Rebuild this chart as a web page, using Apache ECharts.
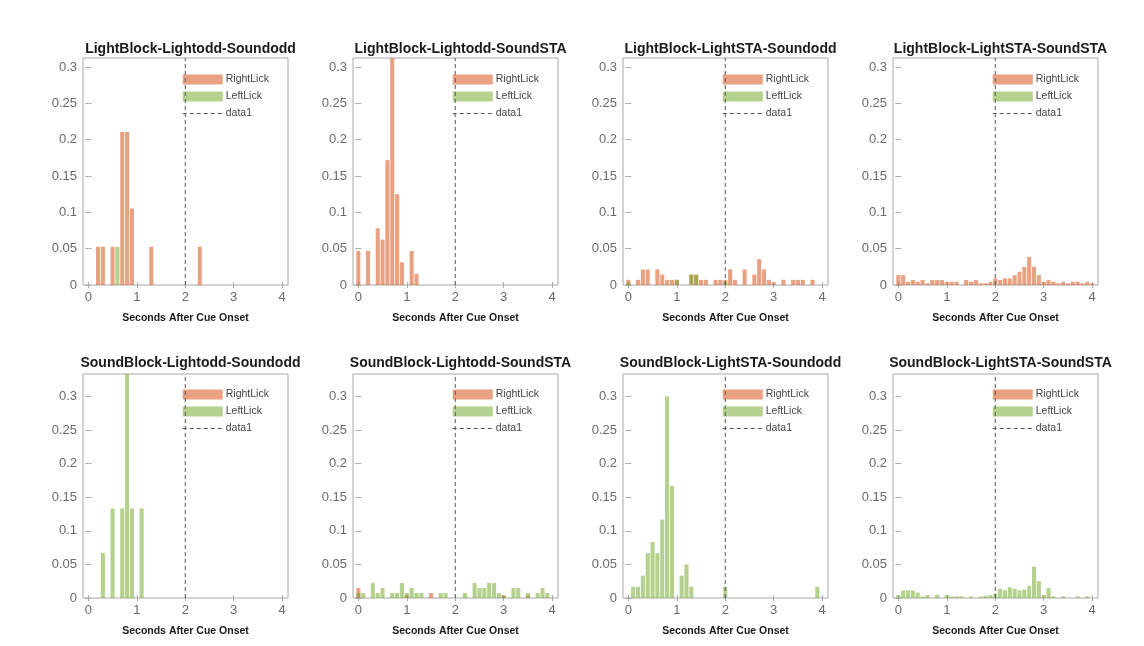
<!DOCTYPE html>
<html>
<head>
<meta charset="utf-8">
<script src="https://cdn.jsdelivr.net/npm/echarts@6/dist/echarts.min.js"></script>
<style>
  html, body { margin: 0; padding: 0; background: #fff; }
  #chart { width: 1144px; height: 646px; }
</style>
</head>
<body>
<div id="chart"></div>
<script>
// Lick-latency histograms, 0.1 s bins after cue onset
const binCenters = [0.0,0.1,0.2,0.3,0.4,0.5,0.6,0.7,0.8,0.9,
                    1.0,1.1,1.2,1.3,1.4,1.5,1.6,1.7,1.8,1.9,
                    2.0,2.1,2.2,2.3,2.4,2.5,2.6,2.7,2.8,2.9,
                    3.0,3.1,3.2,3.3,3.4,3.5,3.6,3.7,3.8,3.9,
                    4.0];

const panelTitles = [
  'LightBlock-Lightodd-Soundodd', 'LightBlock-Lightodd-SoundSTA',
  'LightBlock-LightSTA-Soundodd', 'LightBlock-LightSTA-SoundSTA',
  'SoundBlock-Lightodd-Soundodd', 'SoundBlock-Lightodd-SoundSTA',
  'SoundBlock-LightSTA-Soundodd', 'SoundBlock-LightSTA-SoundSTA'
];

const xTicks = [0, 1, 2, 3, 4];
const yTicks = [0, 0.05, 0.1, 0.15, 0.2, 0.25, 0.3];
const rowYMax = [0.3125, 0.3333];
const cueTime = 2;
const xLabel = 'Seconds After Cue Onset';

// Panel 1: LightBlock-Lightodd-Soundodd
const p1Right = [0,0,.0526,.0526,0,.0526,0,.2105,.2105,.1053, 0,0,0,.0526,0,0,0,0,0,0, 0,0,0,.0526,0,0,0,0,0,0, 0,0,0,0,0,0,0,0,0,0, 0];
const p1Left  = [0,0,0,0,0,0,.0526,0,0,0, 0,0,0,0,0,0,0,0,0,0, 0,0,0,0,0,0,0,0,0,0, 0,0,0,0,0,0,0,0,0,0, 0];
// Panel 2: LightBlock-Lightodd-SoundSTA
const p2Right = [.0469,0,.0469,0,.0781,.0625,.1719,.3125,.125,.0313, 0,.0469,.0156,0,0,0,0,0,0,0, 0,0,0,0,0,0,0,0,0,0, 0,0,0,0,0,0,0,0,0,0, 0];
const p2Left  = [0,0,0,0,0,0,0,0,0,0, 0,0,0,0,0,0,0,0,0,0, 0,0,0,0,0,0,0,0,0,0, 0,0,0,0,0,0,0,0,0,0, 0];
// Panel 3: LightBlock-LightSTA-Soundodd
const p3Right = [.0071,0,.0071,.0214,.0214,0,.0214,.0143,.0071,.0071, .0071,0,0,.0143,.0143,.0071,.0071,0,.0071,.0071, .0071,.0214,.0071,0,.0214,0,.0143,.0357,.0214,.0071, .0036,0,.0071,0,.0071,.0071,.0071,0,.0071,0, 0];
const p3Left  = [.0036,0,0,0,0,0,0,0,0,0, .0071,0,0,.0143,.0143,0,0,0,0,0, .0036,0,0,0,0,0,0,0,0,0, 0,0,0,0,0,0,0,0,0,0, 0];
// Panel 4: LightBlock-LightSTA-SoundSTA
const p4Right = [.0136,.0136,.0045,.0068,.0045,.0068,.0023,.0068,.0068,.0068, .0045,.0045,.0045,0,.0068,.0045,.0068,.0023,.0023,.0045, .0091,.0068,.0091,.0091,.0136,.0182,.0250,.0386,.0250,.0136, .0045,.0068,.0045,.0023,.0045,.0023,.0045,.0045,.0023,.0045, .0023];
const p4Left  = [0,0,0,0,0,0,0,0,0,0, 0,0,0,0,0,0,0,0,0,0, 0,0,0,0,0,0,0,0,0,0, 0,0,0,0,0,0,0,0,0,0, 0];
// Panel 5: SoundBlock-Lightodd-Soundodd
const p5Right = [0,0,0,0,0,0,0,0,0,0, 0,0,0,0,0,0,0,0,0,0, 0,0,0,0,0,0,0,0,0,0, 0,0,0,0,0,0,0,0,0,0, 0];
const p5Left  = [0,0,0,.0667,0,.1333,0,.1333,.3333,.1333, 0,.1333,0,0,0,0,0,0,0,0, 0,0,0,0,0,0,0,0,0,0, 0,0,0,0,0,0,0,0,0,0, 0];
// Panel 6: SoundBlock-Lightodd-SoundSTA
const p6Right = [.0148,0,0,0,0,0,0,0,0,0, .0037,0,0,0,0,.0074,0,0,0,0, 0,0,0,0,0,0,0,0,0,0, .0037,0,0,0,0,.0037,0,0,0,0, 0];
const p6Left  = [.0074,.0074,0,.0222,.0074,.0148,0,.0074,.0074,.0222, .0074,.0148,.0074,.0074,0,0,0,.0074,.0074,0, 0,0,.0074,0,.0222,.0148,.0148,.0222,.0222,.0074, .0037,0,.0148,.0148,0,.0074,0,.0074,.0148,.0074, 0];
// Panel 7: SoundBlock-LightSTA-Soundodd
const p7Right = [0,0,0,0,0,0,0,0,0,0, 0,0,0,0,0,0,0,0,0,0, 0,0,0,0,0,0,0,0,0,0, 0,0,0,0,0,0,0,0,0,0, 0];
const p7Left  = [0,.0167,.0167,.0333,.0667,.0833,.0667,.1167,.3,.1667, 0,.0333,.05,.0167,0,0,0,0,0,0, .0167,0,0,0,0,0,0,0,0,0, 0,0,0,0,0,0,0,0,0,.0167, 0];
// Panel 8: SoundBlock-LightSTA-SoundSTA
const p8Right = [0,0,0,0,0,0,0,0,0,0, 0,0,0,0,0,0,0,0,0,0, 0,0,0,0,0,0,0,0,0,0, 0,0,0,0,0,0,0,0,0,0, 0];
const p8Left  = [.0045,.0114,.0114,.0114,.0080,.0023,.0045,0,.0045,0, .0045,.0023,.0023,.0023,0,.0023,0,.0023,.0034,.0045, .0068,.0136,.0114,.0159,.0136,.0114,.0125,.0182,.0466,.0250, .0045,.0148,.0023,0,.0023,0,0,.0023,0,.0023, 0];

const rightLick = [p1Right, p2Right, p3Right, p4Right, p5Right, p6Right, p7Right, p8Right];
const leftLick  = [p1Left,  p2Left,  p3Left,  p4Left,  p5Left,  p6Left,  p7Left,  p8Left];

// ---- layout & style ----
const FONT = "'Liberation Sans', Arial, Helvetica, sans-serif";
const colLeft = [83, 353, 623, 893];
const gridW = 205;
const rowTop = [58, 374];
const rowH = [227, 224];
const xMin = -0.11, xMax = 4.12;
const axisGray = '#a8a8a8';
const labelGray = '#6a6a6a';
const orange = '#D95319';
const green = '#77AC30';
const cueColor = '#555555';

const binPx = gridW / (xMax - xMin) * 0.1;
const barPx = binPx * 0.84;

const grids = [], xAxes = [], yAxes = [], series = [], titles = [], legends = [];

panelTitles.forEach((name, i) => {
  const row = Math.floor(i / 4), col = i % 4;
  const left = colLeft[col], top = rowTop[row], h = rowH[row];
  const yMax = rowYMax[row];

  grids.push({ left: left, top: top, width: gridW, height: h,
               show: true, borderColor: axisGray, borderWidth: 1,
               backgroundColor: 'transparent', containLabel: false });

  const tickStyle = { show: true, inside: true, length: 3, lineStyle: { color: axisGray, width: 1 } };

  xAxes.push({
    type: 'value', gridIndex: i, min: xMin, max: xMax, position: 'bottom',
    axisLine: { show: false }, splitLine: { show: false },
    axisTick: Object.assign({ customValues: xTicks }, tickStyle),
    axisLabel: { customValues: xTicks, color: labelGray, fontSize: 13, fontFamily: FONT, margin: 6,
                 formatter: v => String(v) },
    name: xLabel, nameLocation: 'middle', nameGap: 28,
    nameTextStyle: { fontSize: 10.5, fontWeight: 'bold', color: '#1a1a1a', fontFamily: FONT }
  });
  xAxes.push({
    type: 'value', gridIndex: i, min: xMin, max: xMax, position: 'top',
    axisLine: { show: false }, splitLine: { show: false }, axisLabel: { show: false },
    axisTick: Object.assign({ customValues: xTicks }, tickStyle)
  });
  yAxes.push({
    type: 'value', gridIndex: i, min: 0, max: yMax, position: 'left',
    axisLine: { show: false }, splitLine: { show: false },
    axisTick: Object.assign({ customValues: yTicks }, tickStyle),
    axisLabel: { customValues: yTicks, color: labelGray, fontSize: 13, fontFamily: FONT, margin: 6,
                 formatter: v => String(+(+v).toFixed(2)) }
  });
  yAxes.push({
    type: 'value', gridIndex: i, min: 0, max: yMax, position: 'right',
    axisLine: { show: false }, splitLine: { show: false }, axisLabel: { show: false },
    axisTick: Object.assign({ customValues: yTicks }, tickStyle)
  });

  const toPairs = arr => arr.map((v, k) => [binCenters[k], v]).filter(p => p[1] > 0);

  series.push({
    name: 'RightLick', type: 'bar', xAxisIndex: 2 * i, yAxisIndex: 2 * i,
    data: toPairs(rightLick[i]), barWidth: barPx, barGap: '-100%',
    itemStyle: { color: orange, opacity: 0.55 }, emphasis: { disabled: true }, z: 2
  });
  series.push({
    name: 'LeftLick', type: 'bar', xAxisIndex: 2 * i, yAxisIndex: 2 * i,
    data: toPairs(leftLick[i]), barWidth: barPx, barGap: '-100%',
    itemStyle: { color: green, opacity: 0.55 }, emphasis: { disabled: true }, z: 3
  });
  series.push({
    name: 'data1', type: 'line', xAxisIndex: 2 * i, yAxisIndex: 2 * i,
    data: [[cueTime, 0], [cueTime, yMax]], symbol: 'none', showSymbol: false, silent: true,
    itemStyle: { color: cueColor, opacity: 0 },
    lineStyle: { color: cueColor, width: 1, type: [4, 3] }, z: 4
  });

  titles.push({
    text: name, left: left + gridW / 2, top: row === 0 ? 37 : 351, textAlign: 'center',
    textStyle: { fontSize: 14, fontWeight: 'bold', color: '#1a1a1a', fontFamily: FONT }
  });

  const cuePx = left + (cueTime - xMin) / (xMax - xMin) * gridW;
  legends.push({
    data: [
      { name: 'RightLick', icon: 'rect' },
      { name: 'LeftLick', icon: 'rect' },
      { name: 'data1', itemStyle: { opacity: 0 }, lineStyle: { color: cueColor, width: 1, type: [4, 3] } }
    ],
    orient: 'vertical',
    left: cuePx - 8, top: top + (row === 0 ? 11 : 10),
    itemWidth: 40, itemHeight: 10, itemGap: 6, selectedMode: false,
    textStyle: { fontSize: 10.5, color: '#444', fontFamily: FONT, padding: [0, 0, 0, -2] }
  });
});

const chart = echarts.init(document.getElementById('chart'), null, { renderer: 'canvas' });
chart.setOption({
  backgroundColor: '#ffffff',
  animation: false,
  title: titles,
  legend: legends,
  grid: grids,
  xAxis: xAxes,
  yAxis: yAxes,
  series: series
});
</script>
</body>
</html>
